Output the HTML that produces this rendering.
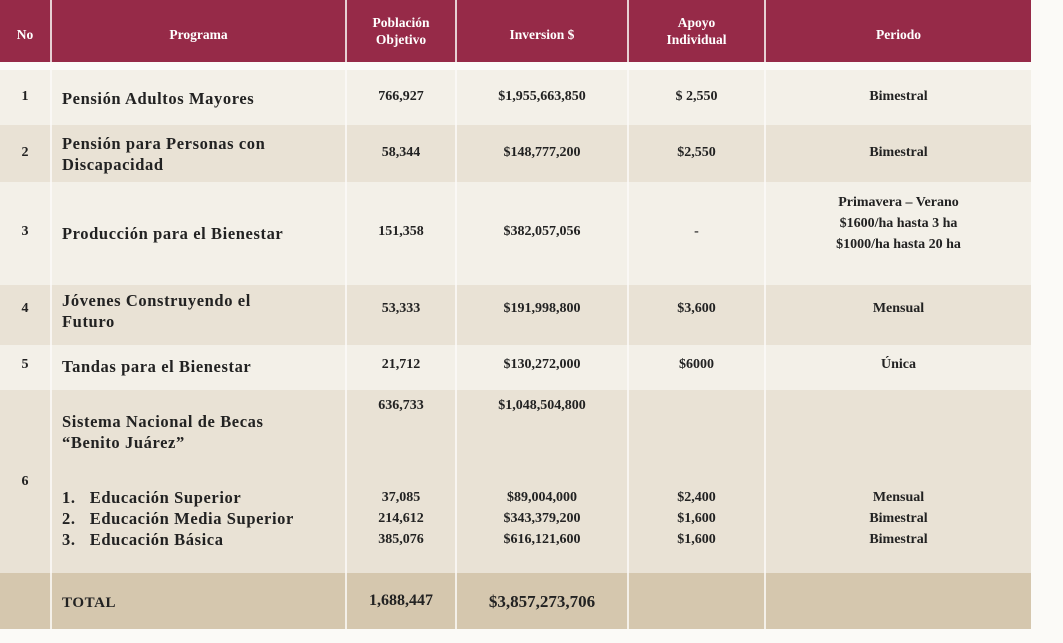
<!DOCTYPE html>
<html><head><meta charset="utf-8"><style>
body{margin:0;width:1063px;height:643px;background:#fbfaf7;position:relative;overflow:hidden;font-family:"Liberation Serif",serif;font-weight:bold;color:#222}
.r{position:absolute;left:0;width:1031px}
.c{position:absolute;text-align:center;font-size:14px}
.p{position:absolute;left:62px;font-size:16.5px;letter-spacing:0.6px;line-height:21px}
.v{position:absolute;top:0;bottom:0;width:2px;background:#fbfaf7;opacity:.8}
.h{position:absolute;color:#fff;text-align:center;font-size:13.5px;line-height:17px}
</style></head><body>
<div class="r" style="top:0;height:62px;background:#962a48"></div>
<div class="r" style="top:70px;height:55px;background:#f3f0e8"></div>
<div class="r" style="top:125px;height:57px;background:#e9e2d5"></div>
<div class="r" style="top:182px;height:103px;background:#f3f0e8"></div>
<div class="r" style="top:285px;height:60px;background:#e9e2d5"></div>
<div class="r" style="top:345px;height:45px;background:#f3f0e8"></div>
<div class="r" style="top:390px;height:183px;background:#e9e2d5"></div>
<div class="r" style="top:573px;height:56px;background:#d5c7ae"></div>
<div style="position:absolute;top:0;height:629px;left:0;width:1031px">
<div class="v" style="left:50px"></div><div class="v" style="left:345px"></div><div class="v" style="left:455px"></div><div class="v" style="left:627px"></div><div class="v" style="left:764px"></div>
</div>
<div class="h" style="left:0;width:50px;top:26px">No</div>
<div class="h" style="left:52px;width:293px;top:26px">Programa</div>
<div class="h" style="left:347px;width:108px;top:14px">Población<br>Objetivo</div>
<div class="h" style="left:457px;width:170px;top:26px">Inversion $</div>
<div class="h" style="left:629px;width:135px;top:14px">Apoyo<br>Individual</div>
<div class="h" style="left:766px;width:265px;top:26px">Periodo</div>

<div class="c" style="left:0;width:50px;top:89px">1</div>
<div class="p" style="top:88px">Pensión Adultos Mayores</div>
<div class="c" style="left:347px;width:108px;top:89px">766,927</div>
<div class="c" style="left:457px;width:170px;top:89px">$1,955,663,850</div>
<div class="c" style="left:629px;width:135px;top:89px">$ 2,550</div>
<div class="c" style="left:766px;width:265px;top:89px">Bimestral</div>

<div class="c" style="left:0;width:50px;top:145px">2</div>
<div class="p" style="top:133px">Pensión para Personas con<br>Discapacidad</div>
<div class="c" style="left:347px;width:108px;top:145px">58,344</div>
<div class="c" style="left:457px;width:170px;top:145px">$148,777,200</div>
<div class="c" style="left:629px;width:135px;top:145px">$2,550</div>
<div class="c" style="left:766px;width:265px;top:145px">Bimestral</div>

<div class="c" style="left:0;width:50px;top:224px">3</div>
<div class="p" style="top:223px">Producción para el Bienestar</div>
<div class="c" style="left:347px;width:108px;top:224px">151,358</div>
<div class="c" style="left:457px;width:170px;top:224px">$382,057,056</div>
<div class="c" style="left:629px;width:135px;top:224px">-</div>
<div class="c" style="left:766px;width:265px;top:192px;line-height:21px">Primavera – Verano<br>$1600/ha hasta 3 ha<br>$1000/ha hasta 20 ha</div>

<div class="c" style="left:0;width:50px;top:301px">4</div>
<div class="p" style="top:290px">Jóvenes Construyendo el<br>Futuro</div>
<div class="c" style="left:347px;width:108px;top:301px">53,333</div>
<div class="c" style="left:457px;width:170px;top:301px">$191,998,800</div>
<div class="c" style="left:629px;width:135px;top:301px">$3,600</div>
<div class="c" style="left:766px;width:265px;top:301px">Mensual</div>

<div class="c" style="left:0;width:50px;top:357px">5</div>
<div class="p" style="top:356px">Tandas para el Bienestar</div>
<div class="c" style="left:347px;width:108px;top:357px">21,712</div>
<div class="c" style="left:457px;width:170px;top:357px">$130,272,000</div>
<div class="c" style="left:629px;width:135px;top:357px">$6000</div>
<div class="c" style="left:766px;width:265px;top:357px">Única</div>

<div class="c" style="left:0;width:50px;top:474px">6</div>
<div class="p" style="top:411px">Sistema Nacional de Becas<br>“Benito Juárez”</div>
<div class="p" style="top:487px">1.&nbsp;&nbsp; Educación Superior<br>2.&nbsp;&nbsp; Educación Media Superior<br>3.&nbsp;&nbsp; Educación Básica</div>
<div class="c" style="left:347px;width:108px;top:398px">636,733</div>
<div class="c" style="left:457px;width:170px;top:398px">$1,048,504,800</div>
<div class="c" style="left:347px;width:108px;top:487px;line-height:21px">37,085<br>214,612<br>385,076</div>
<div class="c" style="left:457px;width:170px;top:487px;line-height:21px">$89,004,000<br>$343,379,200<br>$616,121,600</div>
<div class="c" style="left:629px;width:135px;top:487px;line-height:21px">$2,400<br>$1,600<br>$1,600</div>
<div class="c" style="left:766px;width:265px;top:487px;line-height:21px">Mensual<br>Bimestral<br>Bimestral</div>

<div class="p" style="top:593px;left:62px;font-size:15px">TOTAL</div>
<div class="c" style="left:347px;width:108px;top:592px;font-size:16px">1,688,447</div>
<div class="c" style="left:457px;width:170px;top:592px;font-size:17px">$3,857,273,706</div>
</body></html>
